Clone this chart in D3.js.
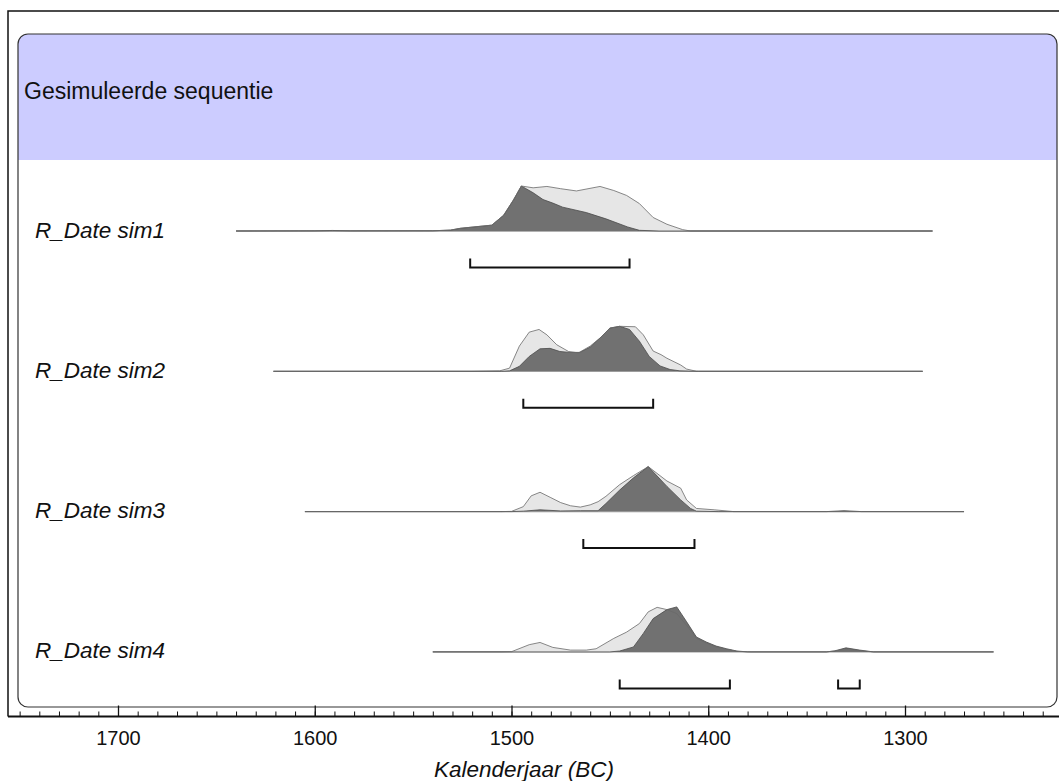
<!DOCTYPE html>
<html><head><meta charset="utf-8">
<script src="https://cdn.jsdelivr.net/npm/d3@7"></script>
<style>body{margin:0;background:#fff} svg{display:block}</style>
</head><body>
<svg id="chart" width="1059" height="781"></svg>
<script>
// ---------- data ----------
const headerTitle = "Gesimuleerde sequentie";
const axisTitle = "Kalenderjaar (BC)";
const rowLabels = ["R_Date sim1", "R_Date sim2", "R_Date sim3", "R_Date sim4"];
const rowRanges = [[1640, 1286], [1621, 1291], [1605, 1270], [1540, 1255]];
const majorTicks = [1700, 1600, 1500, 1400, 1300];

// [year BC, relative probability] — light (likelihood) and dark (posterior)
const sim1Prior = [[1640,0],[1540,0.005],[1531,0.02],[1526,0.06],[1510,0.13],[1504,0.35],[1499,0.69],[1495,1.0],[1489,0.96],[1482,0.99],[1475,0.94],[1467,0.89],[1455,0.99],[1448,0.9],[1441.5,0.79],[1435,0.61],[1428,0.30],[1421,0.15],[1413,0.03],[1409,0],[1286,0]];
const sim1Post  = [[1640,0],[1600,0.003],[1591,0.012],[1582,0.003],[1540,0.005],[1531,0.02],[1526,0.06],[1510,0.13],[1504,0.35],[1499,0.69],[1495,1.0],[1489,0.85],[1484,0.70],[1479,0.62],[1474,0.53],[1462,0.41],[1452,0.27],[1441,0.09],[1435,0.015],[1425,0],[1286,0]];

const sim2Prior = [[1621,0],[1520,0],[1506,0.01],[1501,0.07],[1496,0.56],[1491,0.87],[1486,0.93],[1482,0.81],[1477,0.59],[1471,0.44],[1466,0.41],[1460,0.56],[1455,0.74],[1450,0.96],[1445,1.0],[1437,0.99],[1433,0.81],[1428,0.45],[1424,0.37],[1421,0.29],[1414,0.14],[1411,0.05],[1406,0],[1291,0]];
const sim2Post  = [[1621,0],[1505,0],[1501,0.01],[1496,0.11],[1491,0.33],[1485.5,0.50],[1480.4,0.51],[1475.4,0.44],[1470.3,0.42],[1465.2,0.42],[1460,0.54],[1455,0.74],[1450,0.96],[1445,1.0],[1440,0.93],[1435,0.67],[1430,0.33],[1424.5,0.12],[1419.4,0.04],[1414.4,0.01],[1405,0],[1291,0]];

const sim3Prior = [[1605,0],[1505,0],[1500,0.005],[1494,0.11],[1490,0.35],[1485.5,0.43],[1480,0.31],[1475,0.20],[1470,0.13],[1465,0.10],[1460,0.15],[1456,0.22],[1452,0.34],[1445,0.6],[1438,0.80],[1430.5,1.0],[1421,0.68],[1414,0.52],[1411,0.26],[1406,0.07],[1397,0.04],[1387,0],[1270,0]];
const sim3Post  = [[1605,0],[1500,0],[1494,0.01],[1485.5,0.04],[1475,0.015],[1465,0.02],[1456,0.02],[1452,0.18],[1445,0.48],[1438,0.75],[1430.5,1.0],[1421,0.56],[1414,0.26],[1409,0.07],[1406,0.01],[1395,0],[1340,0],[1331,0.02],[1322,0],[1270,0]];

const sim4Prior = [[1540,0],[1505,0],[1500,0.005],[1491,0.16],[1485.5,0.21],[1479,0.10],[1470,0.04],[1462,0.04],[1457,0.07],[1448,0.30],[1441.5,0.44],[1435,0.63],[1430.5,0.89],[1426,0.99],[1421,0.94],[1416,0.85],[1411,0.59],[1406,0.30],[1401,0.20],[1396,0.11],[1390,0.05],[1385,0.01],[1378,0],[1340,0],[1330,0.05],[1316,0],[1255,0]];
const sim4Post  = [[1540,0],[1450,0],[1445,0.02],[1438,0.11],[1433,0.41],[1428,0.74],[1421,0.94],[1416,1.0],[1411,0.67],[1406,0.33],[1401,0.22],[1396,0.13],[1390.7,0.07],[1385.5,0.02],[1380,0],[1340,0],[1336,0.02],[1330,0.09],[1323,0.04],[1316,0],[1255,0]];

// 95.4% ranges
const sim1Range = [[1521, 1440]];
const sim2Range = [[1494, 1428]];
const sim3Range = [[1463.5, 1407]];
const sim4Range = [[1445, 1389], [1334, 1323]];

const priors = [sim1Prior, sim2Prior, sim3Prior, sim4Prior];
const posts = [sim1Post, sim2Post, sim3Post, sim4Post];
const ranges = [sim1Range, sim2Range, sim3Range, sim4Range];

// ---------- drawing ----------
const svg = d3.select("#chart");
const FONT = "'Liberation Sans', Arial, Helvetica, sans-serif";
const x = d3.scaleLinear().domain([1700, 1300]).range([118, 905]);
const axisY = 716.5;

// outer frame
svg.append("path").attr("d", `M8,${axisY} L8,11 L1062,11`)
  .attr("fill", "none").attr("stroke", "#111").attr("stroke-width", 1.5);

// inner panel with header band
const defs = svg.append("defs");
defs.append("clipPath").attr("id", "panelClip")
  .append("rect").attr("x", 18).attr("y", 34).attr("width", 1039).attr("height", 673).attr("rx", 10);
svg.append("rect").attr("x", 18).attr("y", 34).attr("width", 1039).attr("height", 126)
  .attr("fill", "#ccccff").attr("clip-path", "url(#panelClip)");
svg.append("rect").attr("x", 18).attr("y", 34).attr("width", 1039).attr("height", 673).attr("rx", 10)
  .attr("fill", "none").attr("stroke", "#333").attr("stroke-width", 1.2);
svg.append("text").attr("x", 24).attr("y", 99).attr("font-family", FONT).attr("font-size", 23)
  .attr("fill", "#111").text(headerTitle);

// rows
const rowBase = i => 231 + i * 140.3;
const peakH = 45;
rowLabels.forEach((lab, i) => {
  const base = rowBase(i);
  const y = d3.scaleLinear().domain([0, 1]).range([base, base - peakH]);
  const g = svg.append("g");
  const area = d3.area().x(d => x(d[0])).y0(base).y1(d => y(d[1]));
  const line = d3.line().x(d => x(d[0])).y(d => y(d[1]));

  g.append("line").attr("x1", x(rowRanges[i][0])).attr("x2", x(rowRanges[i][1]))
    .attr("y1", base).attr("y2", base).attr("stroke", "#999").attr("stroke-width", 1.3);
  g.append("path").datum(priors[i]).attr("d", area).attr("fill", "#e6e6e6");
  g.append("path").datum(posts[i]).attr("d", area).attr("fill", "#717171");
  g.append("path").datum(posts[i]).attr("d", line).attr("fill", "none")
    .attr("stroke", "#4a4a4a").attr("stroke-width", 0.8);
  g.append("path").datum(priors[i]).attr("d", line).attr("fill", "none")
    .attr("stroke", "#6a6a6a").attr("stroke-width", 0.8);

  g.append("text").attr("x", 35).attr("y", base + 6.5).attr("font-family", FONT)
    .attr("font-size", 22.5).attr("font-style", "italic").attr("fill", "#111").text(lab);

  const by = base + 36.5;
  ranges[i].forEach(r => {
    g.append("path")
      .attr("d", `M${x(r[0])},${by - 9} L${x(r[0])},${by} L${x(r[1])},${by} L${x(r[1])},${by - 9}`)
      .attr("fill", "none").attr("stroke", "#111").attr("stroke-width", 2);
  });
});

// axis
const minorTicks = d3.range(1750, 1220, -10);
const minorAxis = d3.axisBottom(x).tickValues(minorTicks).tickSize(-5).tickFormat("");
const majorAxis = d3.axisBottom(x).tickValues(majorTicks).tickSize(-11).tickPadding(14).tickFormat(d3.format("d"));
const gMinor = svg.append("g").attr("transform", `translate(0,${axisY})`).call(minorAxis);
const gMajor = svg.append("g").attr("transform", `translate(0,${axisY})`).call(majorAxis);
[gMinor, gMajor].forEach(g => g.select(".domain").remove());
gMinor.selectAll(".tick line").attr("stroke", "#111").attr("stroke-width", 1);
gMajor.selectAll(".tick line").attr("stroke", "#111").attr("stroke-width", 1.3);
gMajor.selectAll(".tick text").attr("font-family", FONT).attr("font-size", 20).attr("fill", "#111");
svg.append("line").attr("x1", 8).attr("x2", 1059).attr("y1", axisY).attr("y2", axisY)
  .attr("stroke", "#111").attr("stroke-width", 2);

svg.append("text").attr("x", 524).attr("y", 777).attr("text-anchor", "middle")
  .attr("font-family", FONT).attr("font-size", 22.5).attr("font-style", "italic")
  .attr("fill", "#111").text(axisTitle);
</script>
</body></html>
